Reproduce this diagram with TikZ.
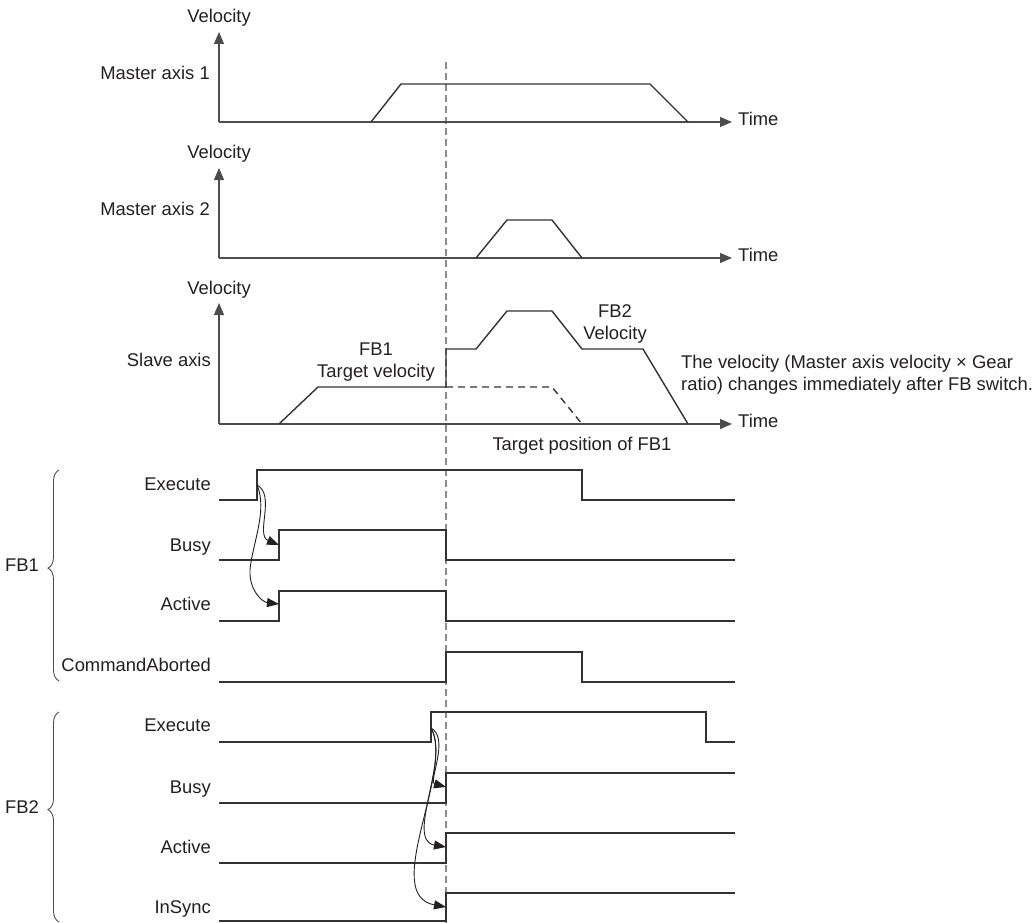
\documentclass[tikz,border=0pt]{standalone}
\usepackage{fontspec}
\setmainfont{Liberation Sans}
\usetikzlibrary{arrows.meta,decorations.pathreplacing}
\definecolor{ink}{HTML}{231F20}
\definecolor{linegray}{HTML}{333333}
\definecolor{axisgray}{HTML}{4D4D4D}
\definecolor{dashgray}{HTML}{8C8C8C}
\begin{document}
\begin{tikzpicture}[x=1pt,y=-1pt,
  every node/.style={font=\fontsize{18.4}{22}\selectfont,text=ink,inner sep=0pt},
  axis/.style={draw=axisgray,line width=1.3pt,-{Triangle[length=12pt,width=10pt]}},
  trace/.style={draw=linegray,line width=1.4pt},
  sig/.style={draw=linegray,line width=1.6pt},
  cause/.style={draw=ink,line width=0.9pt,-{Triangle[length=12pt,width=9pt]}},
  fbbrace/.style={draw=axisgray,line width=0.9pt,decorate,decoration={brace,amplitude=11pt,aspect=0.535}}]
\useasboundingbox (0,0) rectangle (1036,923);
% switch instant
\draw[dashgray,line width=1.2pt,dash pattern=on 7pt off 4pt] (446,62)--(446,923);
% velocity graphs
\foreach \b/\t in {122/32,258/168,424/303} {
  \draw[axis] (219,\b)--(219,\t);
  \draw[axis] (219,\b)--(732,\b);
}
\node[anchor=mid] (vel1) at (219,20) {Velocity};
\node[anchor=mid] (vel2) at (219,156) {Velocity};
\node[anchor=mid] (vel3) at (219,292) {Velocity};
\node[anchor=mid east] (m1) at (210,77) {Master axis 1};
\node[anchor=mid east] (m2) at (210,213) {Master axis 2};
\node[anchor=mid east] (sl) at (211,364) {Slave axis};
\node[anchor=mid west] (t1) at (738,123) {Time};
\node[anchor=mid west] (t2) at (738,259) {Time};
\node[anchor=mid west] (t3) at (738,425) {Time};
\draw[trace] (371,122)--(401,84)--(650,84)--(688,122);
\draw[trace] (476,258)--(507,220)--(552,220)--(582,258);
\draw[trace] (279,424)--(318,387)--(446,387)--(446,349)--(476,349)--(507,311)--(552,311)--(582,349)--(643,349)--(688,424);
\draw[trace,dash pattern=on 7pt off 5pt] (446,387)--(552,387)--(582,424);
\node[align=center] (fb1v) at (376,362) {FB1\\Target velocity};
\node[align=center] (fb2v) at (615,324) {FB2\\Velocity};
\node[anchor=mid] (tpos) at (582,448) {Target position of FB1};
\node[anchor=west,align=left] (note) at (681,375) {The velocity (Master axis velocity × Gear\\ratio) changes immediately after FB switch.};
% FB1 signals
\draw[sig] (219,500)--(257,500)--(257,470)--(582,470)--(582,500)--(735,500);
\draw[sig] (219,560)--(279,560)--(279,530)--(446,530)--(446,560)--(735,560);
\draw[sig] (219,621)--(279,621)--(279,591)--(446,591)--(446,621)--(735,621);
\draw[sig] (219,682)--(446,682)--(446,652)--(582,652)--(582,682)--(735,682);
% FB2 signals
\draw[sig] (219,742)--(431,742)--(431,712)--(706,712)--(706,742)--(735,742);
\draw[sig] (219,803)--(446,803)--(446,773)--(735,773);
\draw[sig] (219,863)--(446,863)--(446,833)--(735,833);
\draw[sig] (219,921)--(446,921)--(446,893)--(735,893);
\node[anchor=mid east] (ex1) at (211,488) {Execute};
\node[anchor=mid east] (bu1) at (211,549) {Busy};
\node[anchor=mid east] (ac1) at (211,608) {Active};
\node[anchor=mid east] (ca1) at (211,669) {CommandAborted};
\node[anchor=mid east] (ex2) at (211,729) {Execute};
\node[anchor=mid east] (bu2) at (211,791) {Busy};
\node[anchor=mid east] (ac2) at (211,851) {Active};
\node[anchor=mid east] (is2) at (211,911) {InSync};
\draw[fbbrace] (59,681)--(59,470);
\draw[fbbrace] (59,922)--(59,712);
\node[anchor=mid east] (fb1) at (39,569) {FB1};
\node[anchor=mid east] (fb2) at (39,811) {FB2};
% cause and effect
\coordinate (exrise1) at (257,485);
\coordinate (burise1) at (279,545);
\coordinate (acrise1) at (279,604);
\coordinate (exrise2) at (431,728);
\coordinate (burise2) at (446,787);
\coordinate (acrise2) at (446,847);
\coordinate (isrise2) at (446,907);
\draw[cause] (exrise1) .. controls (276,495) and (255,535) .. (burise1);
\draw[cause] (exrise1) .. controls (268,510) and (252,545) .. (250,570) .. controls (249,590) and (262,602) .. (acrise1);
\draw[cause] (exrise2) .. controls (450,738) and (428,782) .. (burise2);
\draw[cause] (exrise2) .. controls (450,760) and (405,840) .. (acrise2);
\draw[cause] (exrise2) .. controls (455,770) and (380,895) .. (isrise2);
\end{tikzpicture}
\end{document}
